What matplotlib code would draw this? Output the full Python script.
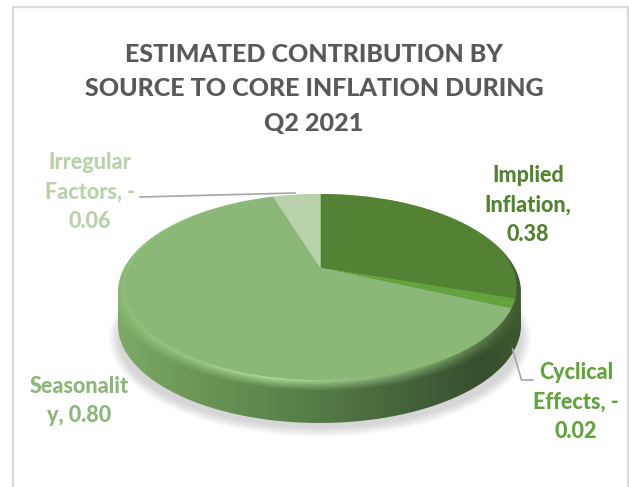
import numpy as np
import matplotlib
matplotlib.use('Agg')
from matplotlib import pyplot as plt
from matplotlib.path import Path
from matplotlib.patches import Ellipse, PathPatch, Rectangle
from matplotlib.transforms import Transform

plt.rcParams['font.family'] = ['Lato', 'DejaVu Sans']

# data
names = ['Implied Inflation', 'Cyclical Effects', 'Seasonality', 'Irregular Factors']
values = [0.38, -0.02, 0.80, -0.06]
colors = ['#548235', '#63A33E', '#8BB878', '#B9D2AB']
title = 'ESTIMATED CONTRIBUTION BY\nSOURCE TO CORE INFLATION DURING\nQ2 2021'
labels = ['Implied\nInflation,\n0.38', 'Cyclical\nEffects, -\n0.02',
          'Seasonalit\ny, 0.80', 'Irregular\nFactors, -\n0.06']

# tilted disc, pixel geometry of the top face
CX, CY = 320.5, 268.0
R, H, C = 192.0, 89.2, 0.205
DEPTH = 33


class Tilt(Transform):
    input_dims = 2
    output_dims = 2

    def transform_non_affine(self, xy):
        xy = np.asarray(xy)
        d = 1 + C * xy[:, 1]
        return np.column_stack([CX + R * xy[:, 0] / d, CY - H * xy[:, 1] / d])


def ramp(x, stops):
    xs = [s[0] for s in stops]
    rgb = np.array([matplotlib.colors.to_rgb(s[1]) for s in stops])
    return np.stack([np.interp(x, xs, rgb[:, i]) for i in range(3)], axis=-1)


side_stops = [(118, '#7DAA68'), (200, '#6B9556'), (320, '#557A47'), (420, '#41603A'),
              (480, '#384E2C'), (521, '#3D5730')]
rim_stops = [(118, '#90C07B'), (200, '#A0D08A'), (275, '#B6E2A2'), (400, '#8FB87A'),
             (480, '#5F834C'), (521, '#3F5A30')]

fig = plt.figure(figsize=(6.29, 4.87), dpi=100)
ax = fig.add_axes([0, 0, 1, 1])

wedges, _ = ax.pie(np.abs(values), colors=colors, startangle=90, counterclock=False,
                   wedgeprops={'linewidth': 0, 'zorder': 5})
tilt = Tilt()
for w in wedges:
    w.set_transform(tilt + ax.transData)
    w.set_clip_on(False)

ax.set_aspect('auto')
ax.axis('off')

# chart frame
ax.add_patch(Rectangle((13, 7), 615, 500, fc='white', ec='#D9D9D9', lw=1.6, zorder=0))

# soft shadow below the disc
for grow in range(20, -1, -2):
    ax.add_patch(Ellipse((320, 338), 402 + grow, 178 + grow, fc='#808080', ec='none',
                         alpha=0.03, zorder=1))

# body of the disc: side + bevel, shaded per pixel
px, py = np.meshgrid(np.arange(629) + 0.5, np.arange(487) + 0.5)
OY, OX, ORX, ORY = 292.0, 319.5, 201.5, 98.0

side = ramp(px, side_stops)
rim = ramp(px, rim_stops)
Y = CY - py
vy = Y / (H - C * Y)
vx = (px - CX) * (1 + C * vy) / R
rho = np.hypot(vx, vy)
t = np.clip((rho - 1) / 0.075, 0, 1)[..., None] ** 0.8
shade = rim * (1 - t) + side * t

ts = np.linspace(0, np.pi, 200)
low = np.column_stack([OX - ORX * np.cos(ts), OY + DEPTH + ORY * np.sin(ts)])
high = np.column_stack([OX + ORX * np.cos(ts), OY - ORY * np.sin(ts)])
outline = np.vstack([low, high, low[:1]])
body = PathPatch(Path(outline), fc='none', ec='none', transform=ax.transData)
ax.add_patch(body)
img = ax.imshow(shade, extent=(0, 629, 487, 0), origin='upper', aspect='auto',
                interpolation='bilinear', zorder=3)
img.set_clip_path(body)
ax.set_xlim(0, 629)
ax.set_ylim(487, 0)

# leader lines
ax.plot([140, 295], [197, 193], color='#A6A6A6', lw=1.2, zorder=6)
ax.plot([512.5, 521.5, 533], [349, 380, 380], color='#A6A6A6', lw=1.2, zorder=6)

# text
ax.text(314, 89, title, ha='center', va='center', multialignment='center', fontsize=18,
        fontweight='black', color='#595959', linespacing=1.62, zorder=7)
label_pos = [(528, 205), (576, 402), (79, 401), (90, 192)]
for (lx, ly), text, col in zip(label_pos, labels, colors):
    ax.text(lx, ly, text, ha='center', va='center', multialignment='center', fontsize=15.5,
            fontweight='black', color=col, linespacing=1.5, zorder=7)

fig.savefig('out.png', dpi=100)
